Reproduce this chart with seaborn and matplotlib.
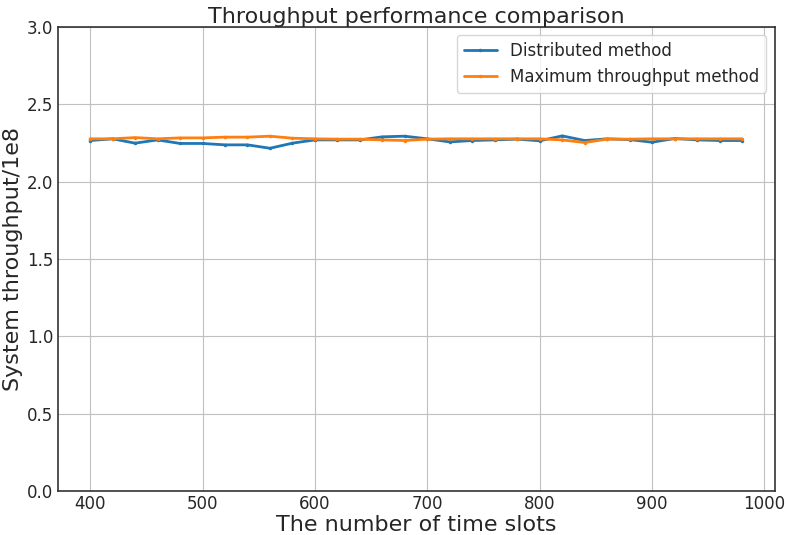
import numpy as np
import pandas as pd
import matplotlib
matplotlib.use("Agg")
import matplotlib.pyplot as plt
import seaborn as sns

slots = list(range(400, 1000, 20))
distributed = [2.265, 2.276, 2.248, 2.269, 2.246, 2.246, 2.237, 2.237, 2.215, 2.248,
               2.269, 2.269, 2.269, 2.289, 2.293, 2.276, 2.256, 2.265, 2.269, 2.274,
               2.263, 2.295, 2.265, 2.276, 2.271, 2.254, 2.278, 2.269, 2.265, 2.265]
maximum = [2.276, 2.276, 2.284, 2.276, 2.282, 2.282, 2.287, 2.287, 2.293, 2.280,
           2.276, 2.274, 2.274, 2.269, 2.265, 2.274, 2.276, 2.276, 2.276, 2.276,
           2.276, 2.269, 2.252, 2.274, 2.274, 2.276, 2.276, 2.276, 2.276, 2.276]

sns.set_style("whitegrid", {"axes.edgecolor": "#333333", "grid.color": "#c0c0c0"})
plt.rcParams['font.family'] = ['DejaVu Sans']

df = pd.DataFrame({
    "slots": slots * 2,
    "value": distributed + maximum,
    "method": ["Distributed method"] * len(slots) + ["Maximum throughput method"] * len(slots),
})

fig, ax = plt.subplots(figsize=(7.88, 5.35), dpi=100)
sns.lineplot(data=df, x="slots", y="value", hue="method",
             palette=["#1f77b4", "#ff7f0e"], marker=".", markersize=5,
             markeredgewidth=0, linewidth=2, ax=ax)
ax.set_ylim(0, 3.0)
ax.set_yticks(np.arange(0, 3.01, 0.5))
ax.set_xticks(range(400, 1001, 100))
ax.set_title("Throughput performance comparison", fontsize=16, pad=3)
ax.set_xlabel("The number of time slots", fontsize=16, labelpad=1)
ax.set_ylabel("System throughput/1e8", fontsize=16, labelpad=3)
ax.tick_params(labelsize=12, length=0, pad=3)
for s in ax.spines.values():
    s.set_color("#333333")
    s.set_linewidth(1.2)
leg = ax.legend(loc="upper right", fontsize=12, frameon=True)
leg.get_frame().set_edgecolor("#cccccc")
fig.subplots_adjust(left=0.073, right=0.983, top=0.95, bottom=0.082)
fig.savefig("out.png", dpi=100)
